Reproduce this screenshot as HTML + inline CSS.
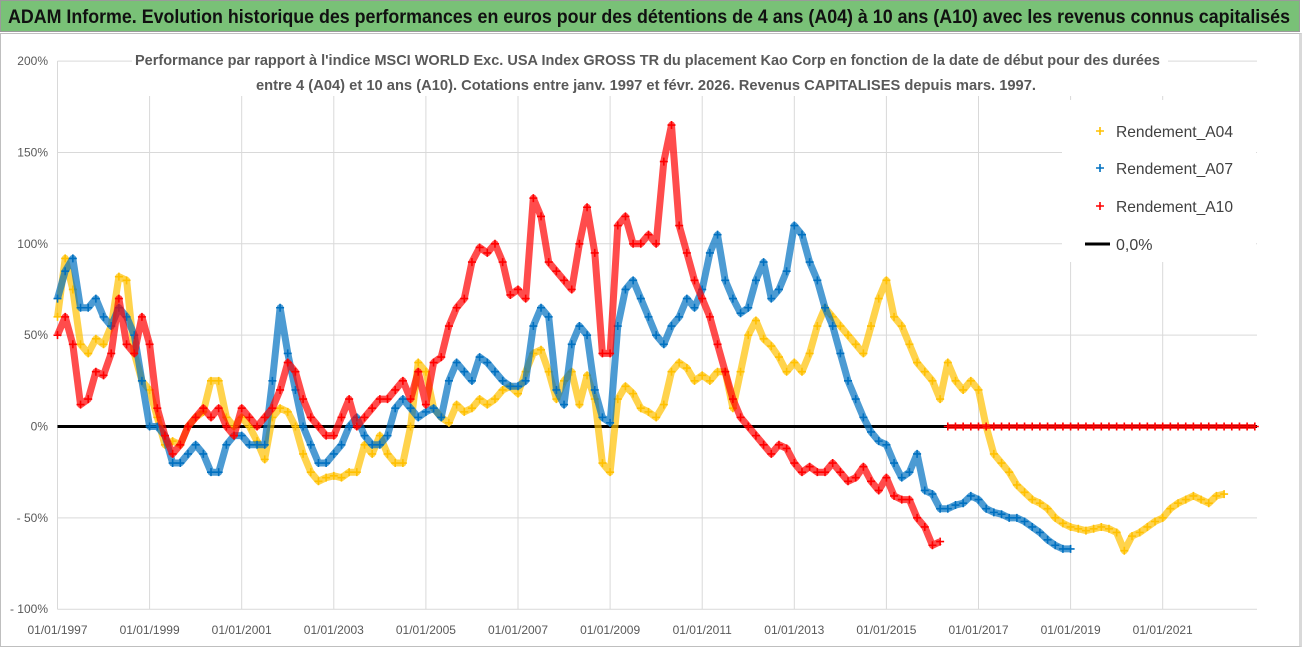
<!DOCTYPE html>
<html><head><meta charset="utf-8"><style>
html,body{margin:0;padding:0;background:#fff;}
body{width:1302px;height:647px;overflow:hidden;position:relative;font-family:"Liberation Sans",sans-serif;}
#hdr{position:absolute;left:0;top:0;width:1300px;height:32px;background:#79c177;border:1px solid #9a9a9a;box-sizing:border-box;}
#frame{position:absolute;left:0;top:33px;width:1298px;height:612px;border:1px solid #bfbfbf;border-right:3px solid #d9d9d9;}
svg{position:absolute;left:0;top:0}
</style></head><body>
<div id="hdr"></div>
<div id="frame"></div>
<svg id="chart" width="1302" height="647"></svg>
<script>
const xTickLabels=["01/01/1997","01/01/1999","01/01/2001","01/01/2003","01/01/2005","01/01/2007","01/01/2009","01/01/2011","01/01/2013","01/01/2015","01/01/2017","01/01/2019","01/01/2021"];
const xTickYears=[1997,1999,2001,2003,2005,2007,2009,2011,2013,2015,2017,2019,2021];
const yTicks=[200,150,100,50,0,-50,-100];
const yTickLabels=["200%","150%","100%","50%","0%","- 50%","- 100%"];
const startYear=1997;
const stepYears=1/6;
const a04=[60,92,75,45,40,48, 45,55,82,80,40,25, 20,5,-10,-8,-10,0, 5,8,25,25,5,0, 5,0,-8,-18,5,10, 8,0,-15,-25,-30,-28, -27,-28,-25,-25,-10,-15, -5,-15,-20,-20,0,35, 30,10,5,2,12,8, 10,15,12,15,20,22, 18,30,40,42,30,15, 25,30,12,28,15,-20, -25,15,22,18,10,8, 5,12,30,35,32,25, 28,25,30,30,10,30, 50,58,48,44,38,30, 35,30,40,55,65,60, 55,50,45,40,55,70, 80,60,55,45,35,30, 25,15,35,25,20,25, 20,0,-15,-20,-25,-32, -36,-40,-42,-45,-50,-53, -55,-56,-57,-56,-55,-56, -58,-68,-60,-58,-55,-52, -50,-45,-42,-40,-38,-40, -42,-38,-37];
const a07=[70,85,92,65,65,70, 60,55,65,60,50,25, 0,0,-5,-20,-20,-15, -10,-15,-25,-25,-10,-5, -5,-10,-10,-10,25,65, 40,20,0,-10,-20,-20, -15,-10,0,5,-5,-10, -10,-5,10,15,10,5, 8,10,5,25,35,30, 25,38,35,30,25,22, 22,25,55,65,60,20, 12,45,55,50,20,5, 2,55,75,80,70,60, 50,45,55,60,70,65, 75,95,105,80,70,62, 65,80,90,70,75,85, 110,105,90,80,65,55, 40,25,15,5,-3,-8, -10,-20,-28,-25,-15,-35, -37,-45,-45,-43,-42,-38, -40,-45,-47,-48,-50,-50, -52,-55,-58,-62,-65,-67, -67];
const a10=[50,60,45,12,15,30, 28,40,70,45,40,60, 45,10,-5,-15,-10,0, 5,10,5,10,0,-5, 10,5,0,5,10,20, 35,30,15,5,0,-5, -5,5,15,0,5,10, 15,15,20,25,15,30, 12,35,38,55,65,70, 90,98,95,100,90,72, 75,70,125,115,90,85, 80,75,100,120,95,40, 40,110,115,100,100,105, 100,145,165,110,95,80, 70,60,45,30,15,5, 0,-5,-10,-15,-10,-12, -20,-25,-22,-25,-25,-20, -25,-30,-28,-22,-30,-35, -28,-38,-40,-40,-50,-55, -65,-63];
const a10Tail=[0,0,0,0, 0,0,0,0,0,0, 0,0,0,0,0,0, 0,0,0,0,0,0, 0,0,0,0,0,0, 0,0,0,0,0,0, 0,0,0,0,0,0, 0];
const NS="http://www.w3.org/2000/svg";
const svg=document.getElementById('chart');
const X0=57.5,X1=1257,XY0=1997,PXY=46.05;
const x=y=>X0+(y-XY0)*PXY;
const Y0=426.5,PXP=1.827;
const yv=v=>Y0-v*PXP;
function mk(t,a,p){const e=document.createElementNS(NS,t);for(const k in a)e.setAttribute(k,a[k]);(p||svg).appendChild(e);return e;}
const ht=mk('text',{x:8,y:23,'font-size':19,'font-weight':'bold',fill:'#111',textLength:1282,lengthAdjust:'spacingAndGlyphs'});
ht.textContent="ADAM Informe. Evolution historique des performances en euros pour des détentions de 4 ans (A04) à 10 ans (A10) avec les revenus connus capitalisés";


const grid=mk('g',{});


yTicks.forEach((v,i)=>{
  mk('line',{x1:X0,x2:X1,y1:yv(v),y2:yv(v),stroke:'#d9d9d9','stroke-width':1},grid);
  const t=mk('text',{x:48,y:yv(v)+4,'text-anchor':'end','font-size':12,fill:'#595959'});
  t.textContent=yTickLabels[i];
  
  
});
xTickYears.forEach((yr,i)=>{
  mk('line',{x1:x(yr),x2:x(yr),y1:yv(200),y2:yv(-100),stroke:'#d9d9d9','stroke-width':1},grid);
  const t=mk('text',{x:x(yr),y:634,'text-anchor':'middle','font-size':12,fill:'#595959'});
  t.textContent=xTickLabels[i];
  
  
});
mk('line',{x1:X0,x2:X0,y1:yv(200),y2:yv(-100),stroke:'#d9d9d9'},grid);
mk('rect',{x:132,y:44,width:1036,height:52,fill:'#fff'});
const t1=mk('text',{x:135,y:65,'font-size':15,'font-weight':'bold',fill:'#595959',textLength:1025,lengthAdjust:'spacingAndGlyphs'});
t1.textContent="Performance par rapport à l'indice MSCI WORLD Exc. USA Index GROSS TR  du placement Kao Corp en fonction de la date de début pour des durées";


const t2=mk('text',{x:256,y:90,'font-size':15,'font-weight':'bold',fill:'#595959',textLength:780,lengthAdjust:'spacingAndGlyphs'});
t2.textContent="entre 4 (A04) et 10 ans (A10). Cotations entre janv. 1997 et févr. 2026. Revenus CAPITALISES depuis mars. 1997.";


const zl=mk('line',{x1:X0,x2:X1,y1:yv(0),y2:yv(0),stroke:'#000','stroke-width':3});


function series(arr,offset,col,name,sw){
  const g=mk('g',{});
  
  
  const pts=arr.map((v,i)=>x(startYear+(i+offset)*stepYears).toFixed(1)+','+yv(v).toFixed(1)).join(' ');
  mk('polyline',{points:pts,fill:'none',stroke:col,'stroke-width':sw,'stroke-linejoin':'round','stroke-opacity':0.7},g);
  arr.forEach((v,i)=>{
    const cx=x(startYear+(i+offset)*stepYears),cy=yv(v);
    const p=mk('path',{d:`M${cx-4},${cy}h8M${cx},${cy-4}v8`,stroke:col,'stroke-width':1.6},g);
    
    
  });
}
series(a04,0,'#ffc000','series-a04',7);
series(a07,0,'#0070c0','series-a07',7);
series(a10,0,'#ff0000','series-a10',7);
series(a10Tail,a10.length,'#ff0000','series-a10-zero',5);
const lg=mk('g',{});


mk('rect',{x:1062,y:100,width:194,height:162,fill:'#fff'},lg);
[['Rendement_A04','#ffc000',131],['Rendement_A07','#0070c0',168],['Rendement_A10','#ff0000',206]].forEach(([n,c,yy])=>{
  const e=mk('g',{},lg);
  
  
  mk('path',{d:`M1096,${yy}h8M1100,${yy-4}v8`,stroke:c,'stroke-width':1.6},e);
  const t=mk('text',{x:1116,y:yy+6,'font-size':16,fill:'#404040',textLength:117,lengthAdjust:'spacingAndGlyphs'},e);t.textContent=n;
});
const e0=mk('g',{},lg);


mk('line',{x1:1085,x2:1110,y1:244,y2:244,stroke:'#000','stroke-width':3},e0);
const tz=mk('text',{x:1116,y:250,'font-size':16,fill:'#404040'},e0);tz.textContent='0,0%';
</script>
</body></html>
